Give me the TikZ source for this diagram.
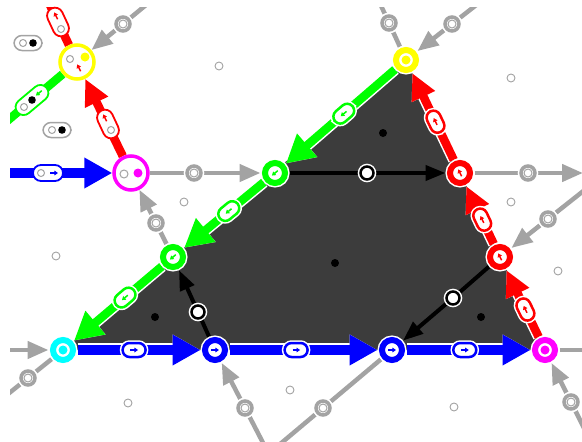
\documentclass[tikz,border=0pt]{standalone}
\usepackage{tikz}
\usepackage{xcolor}
\usetikzlibrary{arrows.meta}
\pgfdeclarelayer{background}
\pgfdeclarelayer{edges}
\pgfsetlayers{background,edges,main}
\definecolor{facegray}{HTML}{3C3C3C}
\definecolor{edgegray}{HTML}{A3A3A3}
\definecolor{vyellow}{RGB}{255,255,0}
\definecolor{vgreen}{RGB}{0,255,0}
\definecolor{vred}{RGB}{255,0,0}
\definecolor{vblue}{RGB}{0,0,255}
\definecolor{vmagenta}{RGB}{255,0,255}
\definecolor{vcyan}{RGB}{0,255,255}
\newcommand{\tinyarr}[3]{%
  \draw[#2, line width=1.5pt, -{Triangle[length=3.6pt,width=4.6pt]}]
    ([shift={(#3+180:3.6pt)}]#1.center) -- ([shift={(#3:4pt)}]#1.center);}

\begin{document}
\begin{tikzpicture}[x=1pt, y=-1pt,
    vtx/.style={circle, inner sep=0pt, minimum size=20pt, outer sep=4.5pt,
      fill=white, draw=#1, line width=6pt,
      preaction={draw=white, line width=9pt}},
    bigvtx/.style={circle, inner sep=0pt, minimum size=34pt,
      fill=white, draw=#1, line width=3.5pt},
    graynode/.style={circle, inner sep=0pt, minimum size=14pt, outer sep=3.25pt,
      fill=white, draw=edgegray, line width=3.5pt,
      preaction={draw=white, line width=6.5pt}},
    blacknode/.style={circle, inner sep=0pt, minimum size=13pt, outer sep=2.75pt,
      fill=white, draw=black, line width=2.5pt,
      preaction={draw=white, line width=5.5pt}},
    pill/.style={rectangle, rounded corners=7pt, inner sep=0pt,
      minimum width=23pt, minimum height=14pt, fill=white, draw=#1,
      line width=2.5pt, preaction={draw=white, line width=5.5pt}},
    bigpill/.style={rectangle, rounded corners=8pt, inner sep=0pt,
      minimum width=30pt, minimum height=16pt, fill=white, draw=#1,
      line width=1.8pt},
    graypill/.style={bigpill=edgegray, minimum width=28pt, minimum height=15pt,
      line width=1.5pt},
    fat/.style 2 args={draw=#1, line width=#2pt,
      preaction={draw=white, line width=#2pt+3pt}},
    bigtip/.style={-{Triangle[length=28pt, width=29pt]}},
    redtip/.style={-{Triangle[length=26pt, width=24pt]}},
    grayedge/.style={draw=edgegray, line width=4.5pt},
    grayarrow/.style={grayedge, -{Triangle[length=21pt, width=17pt]}},
    blackedge/.style={draw=black, line width=4pt},
    blackarrow/.style={blackedge, -{Triangle[length=20pt, width=15pt]}},
  ]
  \useasboundingbox (0,0) rectangle (582,442);

  % Vertices
  \node[vtx=vyellow]    (Y1) at (406,60)  {};
  \node[bigvtx=vyellow] (Y2) at (77,62)   {};
  \node[bigvtx=vmagenta] (M1) at (131,173) {};
  \node[vtx=vgreen]     (G1) at (275,173) {};
  \node[vtx=vred]       (R1) at (460,173) {};
  \node[vtx=vgreen]     (G2) at (173,257) {};
  \node[vtx=vred]       (R2) at (500,257) {};
  \node[vtx=vcyan]      (C)  at (63,350)  {};
  \node[vtx=vblue]      (B1) at (215,350) {};
  \node[vtx=vblue]      (B2) at (392,350) {};
  \node[vtx=vmagenta]   (M2) at (545,350) {};

  % Nodes on the gray and black edges
  \node[graynode] (gn1)  at (194,173) {};
  \node[graynode] (gn2)  at (156,223) {};
  \node[graynode] (gn3)  at (528,173) {};
  \node[graynode] (gn4)  at (548,219) {};
  \node[graynode] (gn5)  at (571,402) {};
  \node[graynode] (gn6)  at (245,408) {};
  \node[graynode] (gn7)  at (323,408) {};
  \node[graynode] (gn8)  at (28,378)  {};
  \node[graynode] (gn9)  at (389,23)  {};
  \node[graynode] (gn10) at (452,24)  {};
  \node[graynode] (gn11) at (123,24)  {};
  \node[blacknode] (bk1) at (367,173) {};
  \node[blacknode] (bk2) at (453,298) {};
  \node[blacknode] (bk3) at (198,312) {};

  % Far ends outside the picture
  \coordinate (o3)  at (583,173);
  \coordinate (o4)  at (596,181);
  \coordinate (o5)  at (600,350);
  \coordinate (o6)  at (597,454);
  \coordinate (o7)  at (275,466);
  \coordinate (o8)  at (254,466);
  \coordinate (o9)  at (0,350);
  \coordinate (o10) at (-7,406);
  \coordinate (o11) at (372,-14);
  \coordinate (o12) at (498,-12);
  \coordinate (o13) at (169,-14);
  \coordinate (o14) at (-13,138);
  \coordinate (o15) at (39,-18);
  \coordinate (o16) at (-10,173);

  % Dark face
  \begin{pgfonlayer}{background}
    \fill[facegray] (Y1.center) -- (C.center) -- (M2.center) -- cycle;
  \end{pgfonlayer}

  \begin{pgfonlayer}{edges}
  \begin{scope}
    \clip (10,7) rectangle (600,460);
    % Gray edges
    \draw[grayedge] (M1) -- (gn1);   \draw[grayarrow] (gn1) -- (G1);
    \draw[grayedge] (G2) -- (gn2);   \draw[grayarrow] (gn2) -- (M1);
    \draw[grayedge] (R1) -- (gn3);   \draw[grayarrow] (gn3) -- (o3);
    \draw[grayedge] (o4) -- (gn4);   \draw[grayarrow] (gn4) -- (R2);
    \draw[grayedge] (M2) -- (o5);
    \draw[grayedge] (o6) -- (gn5);   \draw[grayarrow] (gn5) -- (M2);
    \draw[grayedge] (o7) -- (gn6);   \draw[grayarrow] (gn6) -- (B1);
    \draw[grayedge] (B2) -- (gn7) -- (o8);
    \draw[grayarrow] (o9) -- (C);
    \draw[grayedge] (C) -- (gn8) -- (o10);
    \draw[grayedge] (Y1) -- (gn9) -- (o11);
    \draw[grayedge] (o12) -- (gn10); \draw[grayarrow] (gn10) -- (Y1);
    \draw[grayedge] (o13) -- (gn11); \draw[grayarrow] (gn11) -- (Y2);

    % Black edges
    \draw[blackedge] (G1) -- (bk1); \draw[blackarrow] (bk1) -- (R1);
    \draw[blackedge] (R2) -- (bk2); \draw[blackarrow] (bk2) -- (B2);
    \draw[blackedge] (B1) -- (bk3); \draw[blackarrow] (bk3) -- (G2);

    % Green side
    \draw[fat={vgreen}{8.5}, bigtip] (Y1) -- node[pill=vgreen, sloped, pos=0.47] (pg1) {} (G1);
    \draw[fat={vgreen}{8.5}, bigtip] (G1) -- node[pill=vgreen, sloped, pos=0.44] (pg2) {} (G2);
    \draw[fat={vgreen}{8.5}, bigtip] (G2) -- node[pill=vgreen, sloped, pos=0.42] (pg3) {} (C);
    % Red side
    \draw[fat={vred}{8.5}, redtip] (M2) -- node[pill=vred, sloped, pos=0.41] (pr1) {} (R2);
    \draw[fat={vred}{8.5}, redtip] (R2) -- node[pill=vred, sloped, pos=0.42] (pr2) {} (R1);
    \draw[fat={vred}{8.5}, redtip] (R1) -- node[pill=vred, sloped, pos=0.44] (pr3) {} (Y1);
    % Blue side
    \draw[fat={vblue}{10.5}, bigtip] (C) -- node[pill=vblue, pos=0.46] (pb1) {} (B1);
    \draw[fat={vblue}{10.5}, bigtip] (B1) -- node[pill=vblue, pos=0.45] (pb2) {} (B2);
    \draw[fat={vblue}{10.5}, bigtip] (B2) -- node[pill=vblue, pos=0.47] (pb3) {} (M2);

    % Outer colored edges
    \draw[fat={vblue}{10.5}, bigtip] (o16) -- (M1);
    \draw[fat={vred}{8.5}, redtip] (M1) -- (Y2);
    \draw[draw=vred, line width=8.5pt] (Y2) -- (o15);
    \draw[draw=vgreen, line width=8.5pt] (Y2) -- (o14);
  \end{scope}
  \end{pgfonlayer}

  % Pills on the outer edges
  \node[bigpill=vblue] (bp1) at (48,173) {};
  \node[bigpill=vred, rotate=115] (bp2) at (58,22) {};
  \node[bigpill=vred, rotate=115] (bp3) at (108,124) {};
  \node[bigpill=vgreen, rotate=40, minimum width=38pt] (bp4) at (32,100) {};
  \node[graypill] (gp1) at (28,43) {};
  \node[graypill] (gp2) at (57,130) {};

  % Vertex marks
  \fill[vyellow]  (Y1.center) circle (4.5pt);
  \fill[vcyan]    (C.center)  circle (4.5pt);
  \fill[vmagenta] (M2.center) circle (4.5pt);
  \tinyarr{G1}{vgreen}{220} \tinyarr{G2}{vgreen}{220}
  \tinyarr{R1}{vred}{116}   \tinyarr{R2}{vred}{116}
  \tinyarr{B1}{vblue}{0}    \tinyarr{B2}{vblue}{0}
  \tinyarr{pg1}{vgreen}{220} \tinyarr{pg2}{vgreen}{220} \tinyarr{pg3}{vgreen}{220}
  \tinyarr{pr1}{vred}{116}   \tinyarr{pr2}{vred}{116}   \tinyarr{pr3}{vred}{116}
  \tinyarr{pb1}{vblue}{0}    \tinyarr{pb2}{vblue}{0}    \tinyarr{pb3}{vblue}{0}

  % Marks inside the big vertices and the outer pills
  \draw[edgegray, line width=1pt] (70,59) circle (3.5pt);
  \fill[vyellow] (85,57) circle (4.5pt);
  \coordinate (y2a) at (79,68);   \tinyarr{y2a}{vred}{116}
  \draw[edgegray, line width=1pt] (124,174) circle (4pt);
  \fill[vmagenta] (138,173) circle (4.5pt);
  \draw[edgegray, line width=1pt] (41,173) circle (3.5pt);
  \coordinate (ba1) at (54,173);  \tinyarr{ba1}{vblue}{0}
  \draw[edgegray, line width=1pt] (61,29) circle (3.5pt);
  \coordinate (ba2) at (56,16);   \tinyarr{ba2}{vred}{116}
  \draw[edgegray, line width=1pt] (111,130) circle (3.5pt);
  \coordinate (ba3) at (105,118); \tinyarr{ba3}{vred}{116}
  \draw[edgegray, line width=1pt] (24,107) circle (3.5pt);
  \fill (32,100) circle (3.8pt);
  \coordinate (ba4) at (39,93);   \tinyarr{ba4}{vgreen}{220}
  \draw[edgegray, line width=1pt] (23,43) circle (3.5pt);
  \fill (33,43) circle (3.8pt);
  \draw[edgegray, line width=1pt] (52,130) circle (3.5pt);
  \fill (62,130) circle (3.8pt);

  % Inner rings of the gray nodes
  \foreach \i in {1,...,11}
    \draw[edgegray, line width=1pt] (gn\i.center) circle (4pt);

  % Small gray circles and face dots
  \foreach \p in {(219,66),(511,78),(184,202),(511,202),(56,256),(558,271),(128,403),(290,390),(454,407)}
    \draw[edgegray, fill=white, line width=0.9pt] \p circle (4pt);
  \foreach \p in {(383,133),(335,263),(155,317),(481,317)}
    \fill \p circle (4pt);
\end{tikzpicture}
\end{document}
